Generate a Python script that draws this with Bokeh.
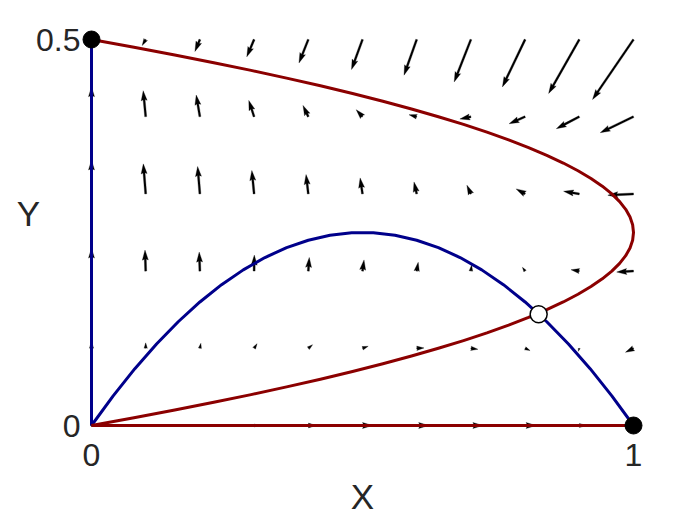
import numpy as np
from bokeh.plotting import figure
from bokeh.models import Range1d, FixedTicker
from bokeh.embed import file_html
from bokeh.resources import INLINE

# ---------------- data ----------------
grid_x = [0.0, 0.1, 0.2, 0.3, 0.4, 0.5, 0.6, 0.7, 0.8, 0.9, 1.0]
grid_y = [0.0, 0.1, 0.2, 0.3, 0.4, 0.5]

# arrow displacement (data units), one row per grid_y value
arrow_u = [
    [0.0, 0.0018, 0.0055, 0.0092, 0.0148, 0.0185, 0.0221, 0.0221, 0.0203, 0.0129, 0.0],
    [0.0, 0.0, 0.0018, 0.0055, 0.0079, 0.0105, 0.0135, 0.0129, 0.0092, -0.0018, -0.0148],
    [0.0, -0.0013, -0.0013, 0.0004, 0.0018, 0.0028, 0.0028, 0.0013, -0.0050, -0.0153, -0.0310],
    [0.0, -0.0044, -0.0042, -0.0042, -0.0042, -0.0044, -0.0050, -0.0074, -0.0166, -0.0290, -0.0474],
    [0.0, -0.0046, -0.0068, -0.0098, -0.0098, -0.0116, -0.0142, -0.0203, -0.0295, -0.0424, -0.0614],
    [0.0, -0.0065, -0.0092, -0.0135, -0.0172, -0.0203, -0.0234, -0.0308, -0.0419, -0.0566, -0.0756],
]
arrow_v = [
    [0.0, 0.0, 0.0, 0.0, 0.0, 0.0, 0.0, 0.0, 0.0, 0.0, 0.0],
    [0.0091, 0.0071, 0.0065, 0.0060, 0.0047, 0.0026, 0.0005, -0.0013, -0.0030, -0.0039, -0.0052],
    [0.0298, 0.0272, 0.0246, 0.0207, 0.0177, 0.0145, 0.0114, 0.0078, 0.0049, 0.0018, -0.0013],
    [0.0440, 0.0389, 0.0355, 0.0303, 0.0251, 0.0207, 0.0155, 0.0113, 0.0065, 0.0034, -0.0017],
    [0.0389, 0.0337, 0.0281, 0.0211, 0.0146, 0.0091, 0.0026, -0.0030, -0.0091, -0.0155, -0.0207],
    [0.0, -0.0078, -0.0155, -0.0225, -0.0303, -0.0389, -0.0462, -0.0549, -0.0614, -0.0699, -0.0777],
]

# X-nullclines (blue): x = 0 and the hump
blue_axis_x = [0.0, 0.0]
blue_axis_y = [0.0, 0.5]
blue_x = [0.0, 0.04, 0.08, 0.12, 0.16, 0.2, 0.24, 0.28, 0.32, 0.36, 0.4, 0.44, 0.48,
          0.52, 0.56, 0.6, 0.64, 0.68, 0.72, 0.76, 0.8, 0.84, 0.88, 0.92, 0.96, 1.0]
blue_y = [0.0, 0.0384, 0.0736, 0.1056, 0.1344, 0.16, 0.1824, 0.2016, 0.2176, 0.2304, 0.24, 0.2464, 0.2496,
          0.2496, 0.2464, 0.24, 0.2304, 0.2176, 0.2016, 0.1824, 0.16, 0.1344, 0.1056, 0.0736, 0.0384, 0.0]

# Y-nullclines (red): y = 0 and the loop
red_axis_x = [0.0, 1.0]
red_axis_y = [0.0, 0.0]
red_y = [0.00, 0.01, 0.02, 0.03, 0.04, 0.05, 0.06, 0.07, 0.08, 0.09,
         0.10, 0.11, 0.12, 0.13, 0.14, 0.15, 0.16, 0.17, 0.18, 0.19,
         0.20, 0.21, 0.22, 0.23, 0.24, 0.25, 0.26, 0.27, 0.28, 0.29,
         0.30, 0.31, 0.32, 0.33, 0.34, 0.35, 0.36, 0.37, 0.38, 0.39,
         0.40, 0.41, 0.42, 0.43, 0.44, 0.45, 0.46, 0.47, 0.48, 0.49, 0.50]
red_x = [0.0, 0.0784, 0.1536, 0.2256, 0.2944, 0.36, 0.4224, 0.4816, 0.5376, 0.5904,
         0.64, 0.6864, 0.7296, 0.7696, 0.8064, 0.84, 0.8704, 0.8976, 0.9216, 0.9424,
         0.96, 0.9744, 0.9856, 0.9936, 0.9984, 1.0, 0.9984, 0.9936, 0.9856, 0.9744,
         0.96, 0.9424, 0.9216, 0.8976, 0.8704, 0.84, 0.8064, 0.7696, 0.7296, 0.6864,
         0.64, 0.5904, 0.5376, 0.4816, 0.4224, 0.36, 0.2944, 0.2256, 0.1536, 0.0784, 0.0]

stable_x = [0.0, 1.0]
stable_y = [0.5, 0.0]
saddle_x = [0.825]
saddle_y = [0.144]

x_ticks = [0, 1]
y_ticks = [0, 0.5]

# ---------------- layout / styles ----------------
WIDTH, HEIGHT = 692, 517
X0, X1 = -0.16790, 1.10885
Y0, Y1 = -0.11917, 0.55052
PX = WIDTH / (X1 - X0)     # pixels per x unit
PY = HEIGHT / (Y1 - Y0)    # pixels per y unit
SHAFT = 2.0                # quiver shaft width in px

RED = "#8B0000"
BLUE = "#00008B"
TXT = "#262626"
FONT = "Liberation Sans"


def quiver_polygon(x0, y0, u, v):
    dxp, dyp = u * PX, v * PY
    L = np.hypot(dxp, dyp) / SHAFT
    ang = np.arctan2(dyp, dxp)
    if L < 1.0:
        th = np.arange(8) * np.pi / 3.0
        px = np.cos(th) * 0.5
        py = np.sin(th) * 0.5
    elif L < 5.0:
        s = L / 5.0
        px = s * np.array([0, 0.5, 0, 5, 0, 0.5, 0, 0], float)
        py = s * 0.5 * np.array([1, 1, 3, 0, -3, -1, -1, 1], float)
    else:
        px = np.array([0, L - 4.5, L - 5, L, L - 5, L - 4.5, 0, 0], float)
        py = 0.5 * np.array([1, 1, 3, 0, -3, -1, -1, 1], float)
    c, s_ = np.cos(ang), np.sin(ang)
    xs = x0 + (px * c - py * s_) * SHAFT / PX
    ys = y0 + (px * s_ + py * c) * SHAFT / PY
    return list(xs), list(ys)


p = figure(width=WIDTH, height=HEIGHT, x_range=Range1d(X0, X1), y_range=Range1d(Y0, Y1),
           output_backend="svg", toolbar_location=None, min_border=0)
p.outline_line_color = None
p.grid.visible = False
p.background_fill_color = "white"
p.border_fill_color = "white"

# quiver arrows
qx, qy = [], []
for j, gy in enumerate(grid_y):
    for i, gx in enumerate(grid_x):
        xs, ys = quiver_polygon(gx, gy, arrow_u[j][i], arrow_v[j][i])
        qx.append(xs)
        qy.append(ys)
p.patches(qx, qy, fill_color="black", line_color="black", line_width=0.3)

# nullclines
p.line(blue_axis_x, blue_axis_y, line_color=BLUE, line_width=3)
p.line(blue_x, blue_y, line_color=BLUE, line_width=3, line_join="round")
p.line(red_axis_x, red_axis_y, line_color=RED, line_width=3.2)
p.line(red_x, red_y, line_color=RED, line_width=3, line_join="round")

# equilibria
p.scatter(stable_x, stable_y, size=17, fill_color="black", line_color="black")
p.scatter(saddle_x, saddle_y, size=17, fill_color="white", line_color="black", line_width=1.5)

# axes
for ax in (p.xaxis, p.yaxis):
    ax.axis_line_color = None
    ax.major_tick_line_color = None
    ax.minor_tick_line_color = None
    ax.major_tick_out = 0
    ax.major_tick_in = 0
    ax.major_label_text_font = FONT
    ax.major_label_text_font_size = "32px"
    ax.major_label_text_color = TXT
    ax.axis_label_text_font = FONT
    ax.axis_label_text_font_size = "35px"
    ax.axis_label_text_font_style = "normal"
    ax.axis_label_text_color = TXT

p.xaxis.fixed_location = 0
p.yaxis.fixed_location = 0
p.xaxis.ticker = FixedTicker(ticks=x_ticks)
p.yaxis.ticker = FixedTicker(ticks=y_ticks)
p.xaxis.bounds = (0, 1)
p.yaxis.bounds = (0, 0.577)
p.xaxis.axis_label = "X"
p.yaxis.axis_label = "Y"
p.yaxis.axis_label_orientation = "horizontal"
p.yaxis.major_label_standoff = 11
p.xaxis.major_label_standoff = 18
p.xaxis.axis_label_standoff = 8
p.yaxis.axis_label_standoff = -7

open("out.html", "w").write(file_html(p, INLINE))
